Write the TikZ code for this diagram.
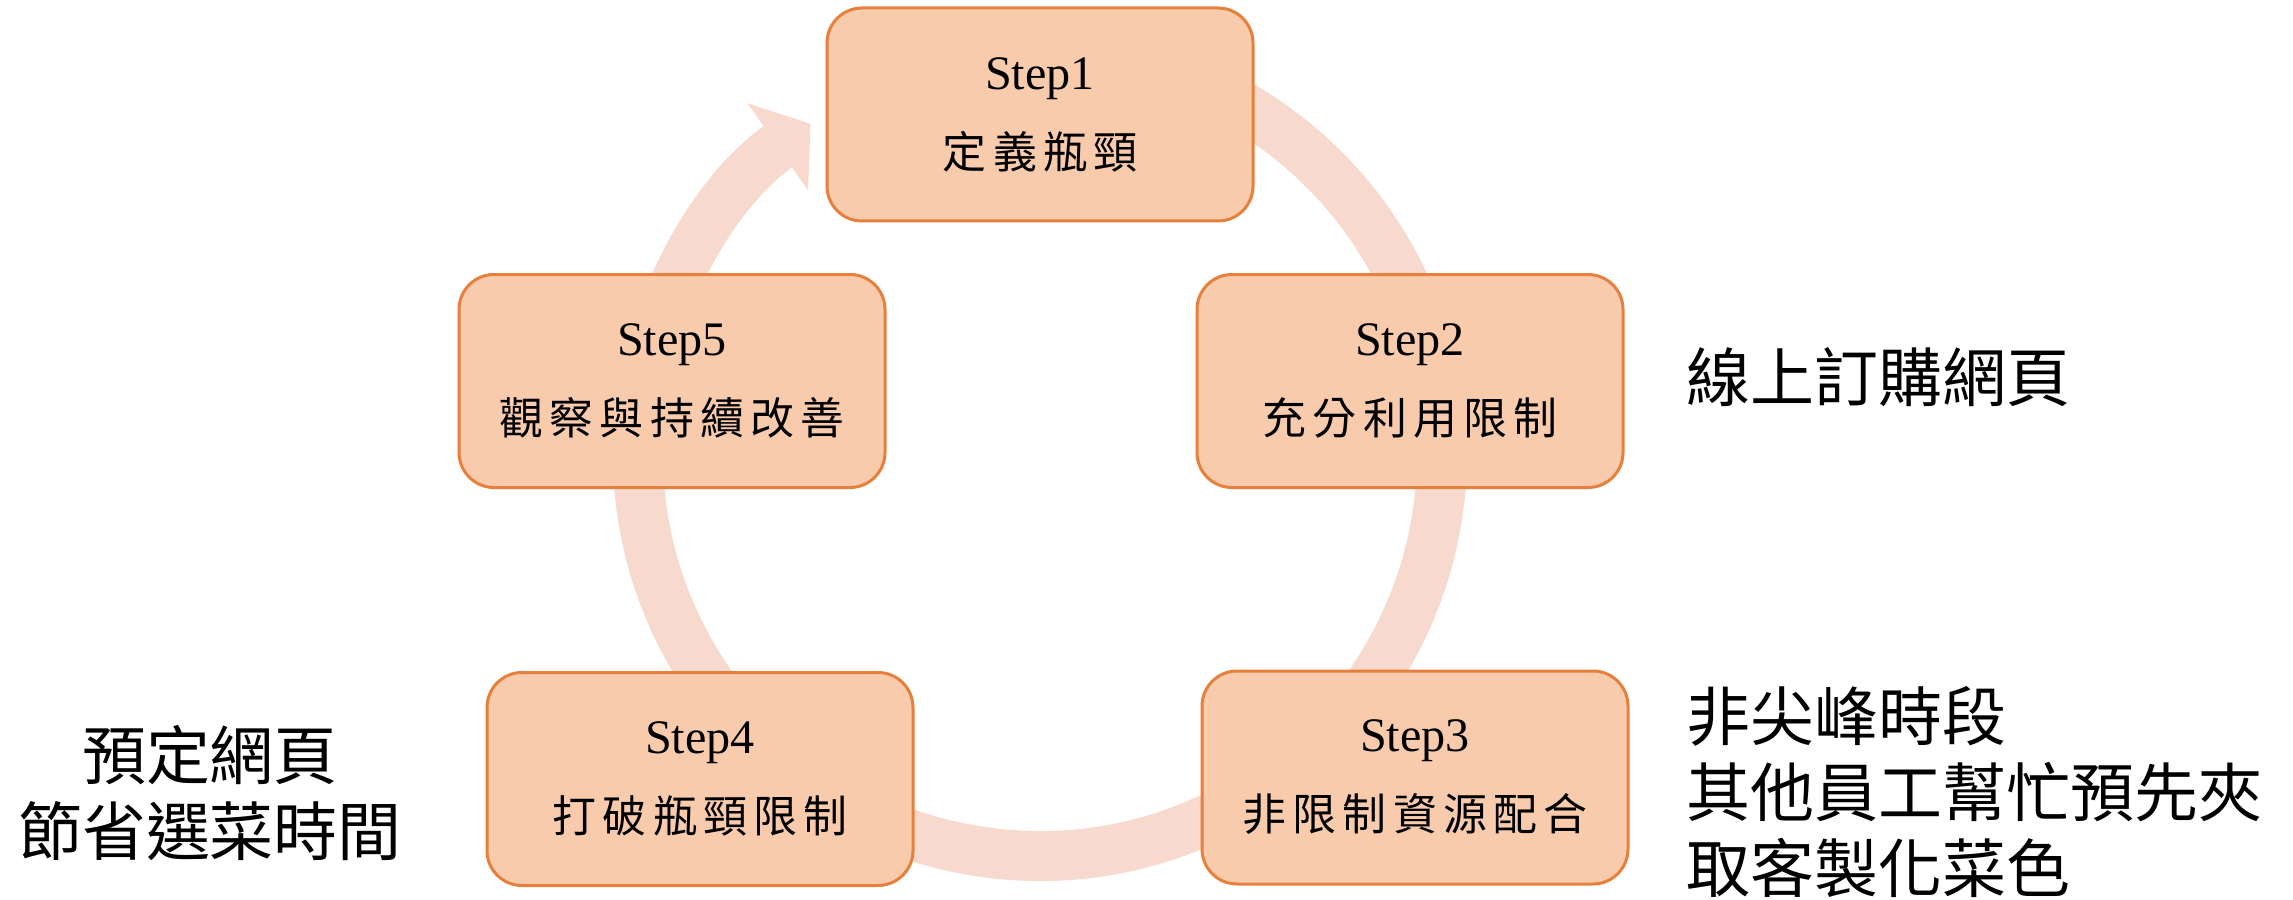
\documentclass[tikz,border=0pt]{standalone}
\usepackage{fontspec}
\setmainfont{Liberation Serif}
\newfontfamily\cjk{Noto Sans CJK TC}
\newfontfamily\cjkbox[LetterSpace=14]{Noto Sans CJK TC}
\usetikzlibrary{arrows.meta}
\definecolor{boxfill}{RGB}{248,203,173}
\definecolor{boxedge}{RGB}{230,128,60}
\definecolor{ringpink}{RGB}{248,217,206}
\tikzset{
  stepbox/.style={draw=boxedge, line width=0.3mm, fill=boxfill, rounded corners=3.5mm,
    minimum width=42.6mm, minimum height=21.3mm, inner sep=0pt, align=center,
    font=\fontsize{13.7}{22.5}\selectfont},
  ring/.style={draw=ringpink, line width=5mm, -{Triangle[length=4mm, width=10.4mm]}},
  note/.style={inner sep=0pt, font=\cjk\fontsize{18.2}{21.6}\selectfont}
}
\begin{document}
\begin{tikzpicture}[x=0.1mm,y=0.1mm]
    \useasboundingbox (0,0) rectangle (2293,899);
    \coordinate (hub) at (1040,445);
    \draw[ring] (hub) ++(80:40.2mm) arc[start angle=80, end angle=-235.2, radius=40.2mm];
    \foreach \n/\x/\y/\txt in {1/1040/784.5/定義瓶頸, 2/1410/518/充分利用限制,
        3/1415/121.5/非限制資源配合, 4/700/120/打破瓶頸限制, 5/672/518/觀察與持續改善}
      \node[stepbox] (s\n) at (\x,\y) {Step\n\\{\cjkbox\fontsize{12.5}{22.5}\selectfont\txt}};
    \node[note, anchor=west] (web) at (1686,522) {線上訂購網頁};
    \node[note, anchor=west, align=left] (offpeak) at (1686,107) {非尖峰時段\\其他員工幫忙預先夾\\取客製化菜色};
    \node[note, align=center] (booking) at (210,106) {預定網頁\\節省選菜時間};
\end{tikzpicture}
\end{document}
